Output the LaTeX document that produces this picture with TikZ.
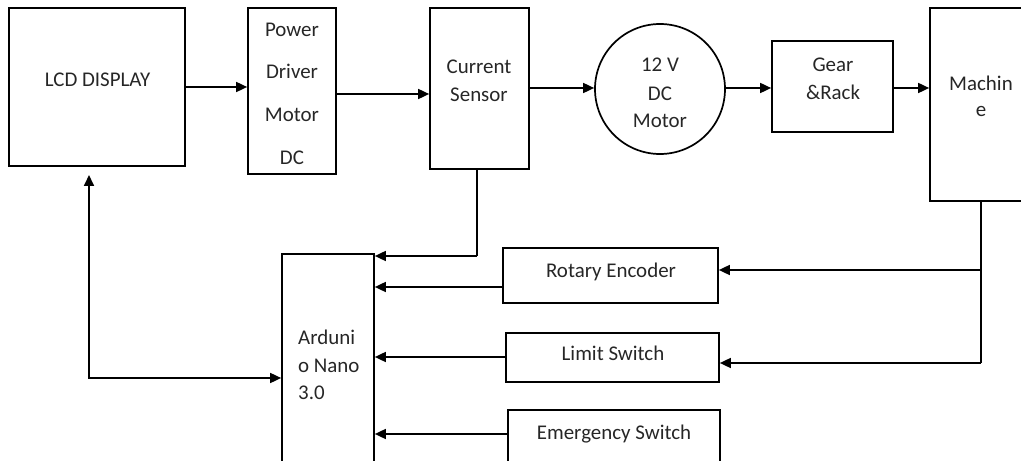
\documentclass[tikz,border=0pt]{standalone}
\usepackage{fontspec}
\setmainfont{Carlito}
\usetikzlibrary{arrows.meta}
\begin{document}
\begin{tikzpicture}[x=1bp,y=-1bp,
  box/.style={draw=black,line width=1.7bp,inner sep=0pt,rectangle},
  txt/.style={font=\fontsize{21}{25}\selectfont,inner sep=0pt,anchor=base,text=black!85},
  arr/.style={line width=1.7bp,-{Triangle[length=11bp,width=10bp]}},
  arrboth/.style={line width=1.7bp,{Triangle[length=11bp,width=10bp]}-{Triangle[length=11bp,width=10bp]}},
  wire/.style={line width=1.5bp}]
\useasboundingbox (0,0) rectangle (1021,461);
% boxes
\node[box,minimum width=176bp,minimum height=158bp] (lcd) at (97,87) {};
\node[box,minimum width=88bp,minimum height=166bp] (pwr) at (292,91) {};
\node[box,minimum width=99bp,minimum height=161bp] (cur) at (479.5,88.5) {};
\node[draw=black,line width=1.7bp,circle,inner sep=0pt,minimum size=130bp] (motor) at (660,89) {};
\node[box,minimum width=121bp,minimum height=91bp] (gear) at (832.5,86.5) {};
\node[box,minimum width=102bp,minimum height=193bp] (mach) at (981,104.5) {};
\node[box,minimum width=92bp,minimum height=221bp] (ard) at (328,364.5) {};
\node[box,minimum width=215bp,minimum height=55bp] (rot) at (610.5,275.5) {};
\node[box,minimum width=213bp,minimum height=49bp] (lim) at (612.5,357.5) {};
\node[box,minimum width=212bp,minimum height=65bp] (emg) at (614,442.5) {};
% texts
\node[txt] (lcdT) at (97.5,87) {LCD DISPLAY};
\node[txt] (pwrT1) at (292,37) {Power};
\node[txt] (pwrT2) at (292,79) {Driver};
\node[txt] (pwrT3) at (292,122) {Motor};
\node[txt] (pwrT4) at (292,165) {DC};
\node[txt] (curT1) at (479,74) {Current};
\node[txt] (curT2) at (479,101.5) {Sensor};
\node[txt] (motT1) at (660,72) {12 V};
\node[txt] (motT2) at (660,100.5) {DC};
\node[txt] (motT3) at (660,127.5) {Motor};
\node[txt] (gearT1) at (833,72) {Gear};
\node[txt] (gearT2) at (833,100) {\&Rack};
\node[txt] (machT1) at (981,90.5) {Machin};
\node[txt] (machT2) at (981,116.5) {e};
\node[txt,anchor=base west] (ardT1) at (298,345) {Arduni};
\node[txt,anchor=base west] (ardT2) at (298,372.5) {o Nano};
\node[txt,anchor=base west] (ardT3) at (298,400) {3.0};
\node[txt] (rotT) at (611,278) {Rotary Encoder};
\node[txt] (limT) at (613,360.5) {Limit Switch};
\node[txt] (emgT) at (614,439) {Emergency Switch};
% top chain
\draw[arr] (lcd.east |- 0,87) -- (pwr.west |- 0,87);
\draw[arr] (pwr.east |- 0,94) -- (cur.west |- 0,94);
\draw[arr] (cur.east |- 0,88) -- (motor.west |- 0,88);
\draw[arr] (motor.east |- 0,88) -- (gear.west |- 0,88);
\draw[arr] (gear.east |- 0,88) -- (mach.west |- 0,88);
% machine feedback
\coordinate (m1) at (981,270);
\coordinate (m2) at (981,363);
\draw[wire] (mach.south) -- (m2);
\draw[arr] (m1) -- (rot.east |- m1);
\draw[arr] (m2) -- (lim.east |- m2);
% current sensor to arduino
\coordinate (c1) at (477,256);
\draw[wire] (cur.south -| c1) -- (c1);
\draw[arr] (c1) -- (ard.east |- c1);
% inputs to arduino
\draw[arr] (rot.west |- 0,287) -- (ard.east |- 0,287);
\draw[arr] (lim.west |- 0,357) -- (ard.east |- 0,357);
\draw[arr] (emg.west |- 0,434) -- (ard.east |- 0,434);
% lcd <-> arduino
\coordinate (l1) at (89,175);
\draw[arrboth] (l1) |- (ard.west |- 0,378);
\end{tikzpicture}
\end{document}
